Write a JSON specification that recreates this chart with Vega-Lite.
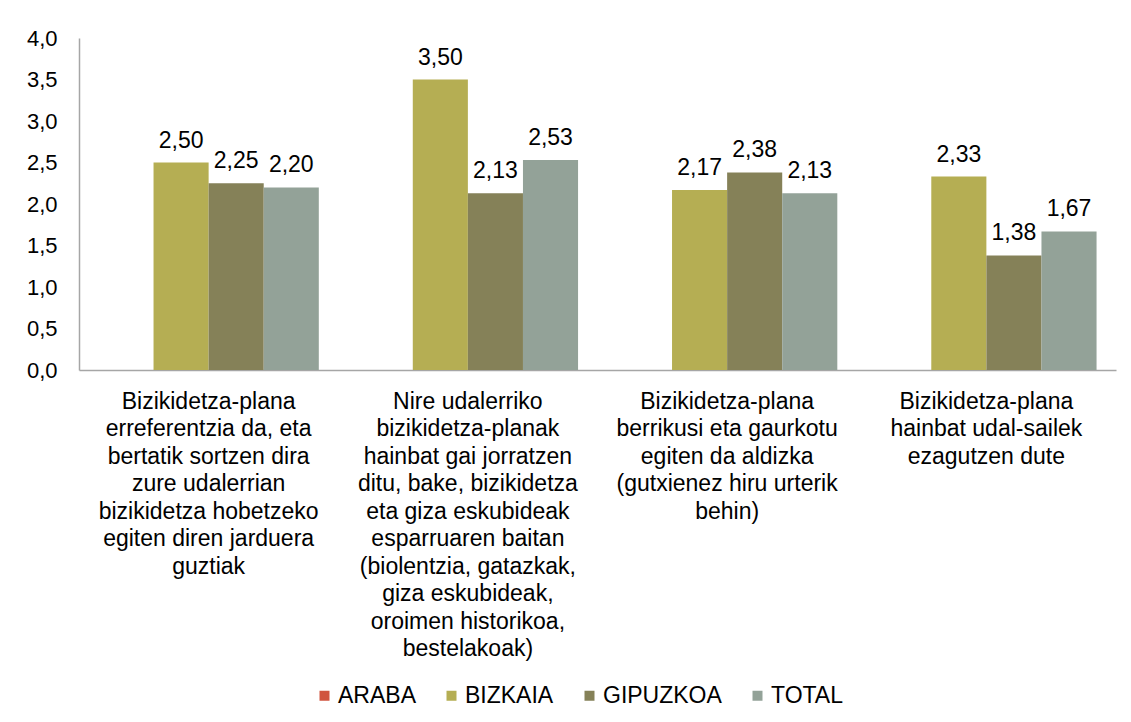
{
  "$schema": "https://vega.github.io/schema/vega-lite/v6.json",
  "autosize": {"type": "none"},
  "width": 1037,
  "height": 332,
  "padding": {"left": 79, "top": 38, "right": 15, "bottom": 352},
  "background": "white",
  "config": {
    "locale": {"number": {"decimal": ",", "thousands": ".", "grouping": [3], "currency": ["", " €"]}},
    "view": {"stroke": null},
    "font": "Liberation Sans",
    "axis": {"labelFont": "Liberation Sans", "labelColor": "#000000"},
    "legend": {"labelFont": "Liberation Sans"}
  },
  "data": {
    "values": [
      {"item": "Bizikidetza-plana\nerreferentzia da, eta\nbertatik sortzen dira\nzure udalerrian\nbizikidetza hobetzeko\negiten diren jarduera\nguztiak", "lurraldea": "BIZKAIA", "balioa": 2.50},
      {"item": "Bizikidetza-plana\nerreferentzia da, eta\nbertatik sortzen dira\nzure udalerrian\nbizikidetza hobetzeko\negiten diren jarduera\nguztiak", "lurraldea": "GIPUZKOA", "balioa": 2.25},
      {"item": "Bizikidetza-plana\nerreferentzia da, eta\nbertatik sortzen dira\nzure udalerrian\nbizikidetza hobetzeko\negiten diren jarduera\nguztiak", "lurraldea": "TOTAL", "balioa": 2.20},
      {"item": "Nire udalerriko\nbizikidetza-planak\nhainbat gai jorratzen\nditu, bake, bizikidetza\neta giza eskubideak\nesparruaren baitan\n(biolentzia, gatazkak,\ngiza eskubideak,\noroimen historikoa,\nbestelakoak)", "lurraldea": "BIZKAIA", "balioa": 3.50},
      {"item": "Nire udalerriko\nbizikidetza-planak\nhainbat gai jorratzen\nditu, bake, bizikidetza\neta giza eskubideak\nesparruaren baitan\n(biolentzia, gatazkak,\ngiza eskubideak,\noroimen historikoa,\nbestelakoak)", "lurraldea": "GIPUZKOA", "balioa": 2.13},
      {"item": "Nire udalerriko\nbizikidetza-planak\nhainbat gai jorratzen\nditu, bake, bizikidetza\neta giza eskubideak\nesparruaren baitan\n(biolentzia, gatazkak,\ngiza eskubideak,\noroimen historikoa,\nbestelakoak)", "lurraldea": "TOTAL", "balioa": 2.53},
      {"item": "Bizikidetza-plana\nberrikusi eta gaurkotu\negiten da aldizka\n(gutxienez hiru urterik\nbehin)", "lurraldea": "BIZKAIA", "balioa": 2.17},
      {"item": "Bizikidetza-plana\nberrikusi eta gaurkotu\negiten da aldizka\n(gutxienez hiru urterik\nbehin)", "lurraldea": "GIPUZKOA", "balioa": 2.38},
      {"item": "Bizikidetza-plana\nberrikusi eta gaurkotu\negiten da aldizka\n(gutxienez hiru urterik\nbehin)", "lurraldea": "TOTAL", "balioa": 2.13},
      {"item": "Bizikidetza-plana\nhainbat udal-sailek\nezagutzen dute", "lurraldea": "BIZKAIA", "balioa": 2.33},
      {"item": "Bizikidetza-plana\nhainbat udal-sailek\nezagutzen dute", "lurraldea": "GIPUZKOA", "balioa": 1.38},
      {"item": "Bizikidetza-plana\nhainbat udal-sailek\nezagutzen dute", "lurraldea": "TOTAL", "balioa": 1.67}
    ]
  },
  "encoding": {
    "x": {
      "field": "item",
      "type": "nominal",
      "sort": null,
      "scale": {"paddingInner": 0.15, "paddingOuter": 0.075},
      "axis": {
        "title": null,
        "labelAngle": 0,
        "labelExpr": "split(datum.label, '\\n')",
        "labelFontSize": 23,
        "labelLineHeight": 27.5,
        "labelPadding": 20,
        "ticks": false,
        "domainColor": "#A6A6A6",
        "domainWidth": 1.5,
        "labelLimit": 300
      }
    },
    "xOffset": {
      "field": "lurraldea",
      "type": "nominal",
      "scale": {"domain": ["ARABA", "BIZKAIA", "GIPUZKOA", "TOTAL"], "paddingInner": 0, "paddingOuter": 0}
    },
    "y": {
      "field": "balioa",
      "type": "quantitative",
      "scale": {"domain": [0, 4], "nice": false},
      "axis": {
        "title": null,
        "values": [0, 0.5, 1, 1.5, 2, 2.5, 3, 3.5, 4],
        "format": ".1f",
        "grid": false,
        "ticks": false,
        "labelPadding": 22,
        "labelFontSize": 22,
        "domainColor": "#A6A6A6",
        "domainWidth": 1.5
      }
    }
  },
  "layer": [
    {
      "mark": {"type": "bar"},
      "encoding": {
        "color": {
          "field": "lurraldea",
          "type": "nominal",
          "scale": {
            "domain": ["ARABA", "BIZKAIA", "GIPUZKOA", "TOTAL"],
            "range": ["#D0543F", "#B5AE53", "#858158", "#93A298"]
          },
          "legend": {
            "title": null,
            "orient": "none",
            "direction": "horizontal",
            "legendX": 234,
            "legendY": 646,
            "symbolType": "square",
            "symbolSize": 100,
            "symbolStrokeWidth": 0,
            "labelFontSize": 23,
            "columnPadding": 24,
            "labelOffset": 2
          }
        }
      }
    },
    {
      "mark": {"type": "text", "baseline": "alphabetic", "dy": -15, "fontSize": 23, "color": "#000000"},
      "encoding": {
        "text": {"field": "balioa", "type": "quantitative", "format": ".2f"}
      }
    }
  ]
}
